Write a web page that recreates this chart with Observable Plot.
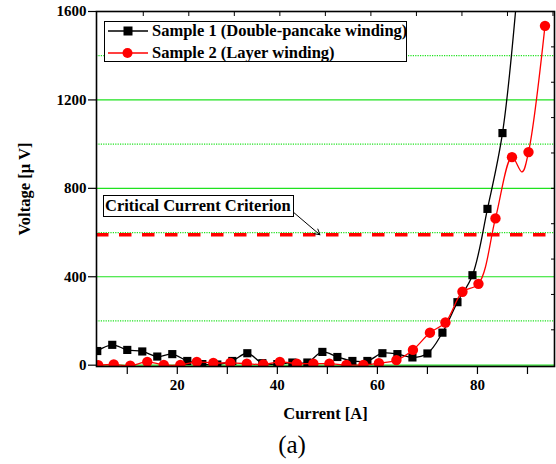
<!DOCTYPE html>
<html><head><meta charset="utf-8">
<script src="https://cdn.jsdelivr.net/npm/d3@7"></script>
<script src="https://cdn.jsdelivr.net/npm/@observablehq/plot@0.6"></script>
<style>
body{margin:0;background:#fff;}
#wrap{position:relative;width:556px;height:464px;font-family:"Liberation Serif","Times New Roman",serif;}
.legend{position:absolute;left:104px;top:21px;width:303px;height:41px;border:1.3px solid #000;background:#fff;font-weight:bold;font-size:16.5px;box-sizing:border-box;}
.row{position:absolute;left:0;height:20px;display:flex;align-items:center;}
.row svg{margin-left:3px;}
.row span{margin-left:4px;white-space:nowrap;}
.annot{position:absolute;left:103px;top:195px;width:191px;height:22px;border:1.3px solid #000;background:#fff;font-weight:bold;font-size:16.5px;box-sizing:border-box;line-height:19px;padding-left:1px;white-space:nowrap;}
.cap{position:absolute;left:262px;width:60px;top:431px;text-align:center;font-size:25px;}
</style></head><body><div id="wrap"></div><script>
// Sample 1 (Double-pancake winding)
const sample1Current = [4,7,10,13,16,19,22,25,28,31,34,37,40,43,46,49,52,55,58,61,64,67,70,73,76,79,82,85,88];
const sample1Voltage = [64,92,69,62,39,50,19,5,3,19,54,9,5,12,12,60,37,19,19,54,50,35,53,147,285,407,707,1050,1700];
// Sample 2 (Layer winding)
const sample2Current = [4.2,7.3,10.6,14.0,17.3,20.6,23.9,27.2,30.6,33.9,37.2,40.5,43.9,47.2,50.4,53.8,57.2,60.3,63.8,67.1,70.5,73.6,77.0,80.2,83.6,86.9,90.2,93.5];
const sample2Voltage = [0,3,-2,15,1,1,15,10,10,7,3,15,7,7,7,1,1,9,23,69,147,193,332,368,664,941,964,1535];
// extra vertex of the red trace (dip between markers)
const sample2TraceCurrent = [88.9];
const sample2TraceVoltage = [874];
// criterion & annotation
const criterionVoltage = 590;
const arrowFrom = {current: 43.0, voltage: 696};
const arrowTo = {current: 48.5, voltage: 590};
// ticks
const xTicks = [10,20,30,40,50,60,70,80,90];
const yMajor = [0,400,800,1200,1600];
const yMinor = [200,600,1000,1400];
const topTicks = [13.2,22.3,31.4,40.5,49.6,58.7,67.8,76.9,86.0,95.1];
const rightTicks = [160,320,480,640,800,960,1120,1280,1440,1600];

const s1 = sample1Current.map((c,i)=>({c, v: sample1Voltage[i]}));
const s2 = sample2Current.map((c,i)=>({c, v: sample2Voltage[i]}));
const s2line = s2.concat(sample2TraceCurrent.map((c,i)=>({c, v: sample2TraceVoltage[i]}))).sort((a,b)=>a.c-b.c);

const green = "#1fe21f";
const chart = Plot.plot({
  width: 556, height: 464,
  marginLeft: 96, marginRight: 2, marginTop: 11, marginBottom: 98,
  style: {fontFamily: "'Liberation Serif','Times New Roman',serif", fontSize: "15px", fontWeight: "bold", color: "#000", background: "#fff"},
  x: {domain: [3.85, 95.4]},
  y: {domain: [-6, 1600]},
  marks: [
    Plot.gridY(yMajor, {stroke: green, strokeOpacity: 1, strokeWidth: 1.2}),
    Plot.gridY(yMinor, {stroke: green, strokeOpacity: 1, strokeWidth: 1.2, strokeDasharray: "1.2,1.2"}),
    Plot.ruleY([criterionVoltage], {stroke: "#f00", strokeWidth: 3.6, strokeDasharray: "12.5,10.5"}),
    Plot.line(s1, {x: "c", y: "v", curve: "catmull-rom", stroke: "#000", strokeWidth: 1.3, clip: true}),
    Plot.dot(s1, {x: "c", y: "v", symbol: "square", fill: "#000", r: 4.6, clip: true}),
    Plot.line(s2line, {x: "c", y: "v", curve: "catmull-rom", stroke: "#f00", strokeWidth: 1.3, clip: true}),
    Plot.dot(s2, {x: "c", y: "v", symbol: "circle", fill: "#f00", r: 5.2, clip: true}),
    Plot.arrow([0], {x1: () => arrowFrom.current, y1: () => arrowFrom.voltage, x2: () => arrowTo.current, y2: () => arrowTo.voltage, stroke: "#000", strokeWidth: 1, headLength: 9}),
    Plot.axisX({ticks: xTicks, tickSize: 8, tickPadding: 5, tickFormat: d => d % 20 === 0 ? String(d) : "", label: "Current [A]", labelAnchor: "center", labelOffset: 52, labelArrow: "none", fontSize: 15, strokeWidth: 1.2}),
    Plot.axisY({ticks: yMajor, tickSize: 8, tickPadding: 2, tickFormat: d => String(d), label: "Voltage [μ V]", labelAnchor: "center", labelOffset: 78, labelArrow: "none", fontSize: 15, strokeWidth: 1.2}),
    Plot.axisY({anchor: "right", ticks: rightTicks, tickSize: -4, tickFormat: () => "", label: null}),
    Plot.axisX({anchor: "top", ticks: topTicks, tickSize: -4, tickFormat: () => "", label: null}),
    Plot.frame({stroke: "#000", strokeWidth: 1.6})
  ]
});
const wrap = document.getElementById("wrap");
wrap.appendChild(chart);
chart.querySelectorAll('[aria-label="y-axis label"] text, [aria-label="x-axis label"] text').forEach(t => t.style.fontSize = "16.5px");

const lg = document.createElement("div");
lg.className = "legend";
const entries = [
  {name: "Sample 1 (Double-pancake winding)", color: "#000", sym: "square"},
  {name: "Sample 2 (Layer winding)", color: "#f00", sym: "circle"}
];
entries.forEach((e, i) => {
  const row = document.createElement("div");
  row.className = "row";
  row.style.top = (i === 0 ? -1 : 21) + "px";
  const mk = e.sym === "square"
    ? `<rect x="15.5" y="5.5" width="9" height="9" fill="${e.color}"/>`
    : `<circle cx="19.5" cy="10" r="5" fill="${e.color}"/>`;
  row.innerHTML = `<svg width="40" height="20"><line x1="0" x2="40" y1="10" y2="10" stroke="${e.color}" stroke-width="1.3"/>${mk}</svg><span>${e.name}</span>`;
  lg.appendChild(row);
});
wrap.appendChild(lg);

const an = document.createElement("div");
an.className = "annot";
an.textContent = "Critical Current Criterion";
wrap.appendChild(an);

const cap = document.createElement("div");
cap.className = "cap";
cap.textContent = "(a)";
wrap.appendChild(cap);
</script></body></html>
